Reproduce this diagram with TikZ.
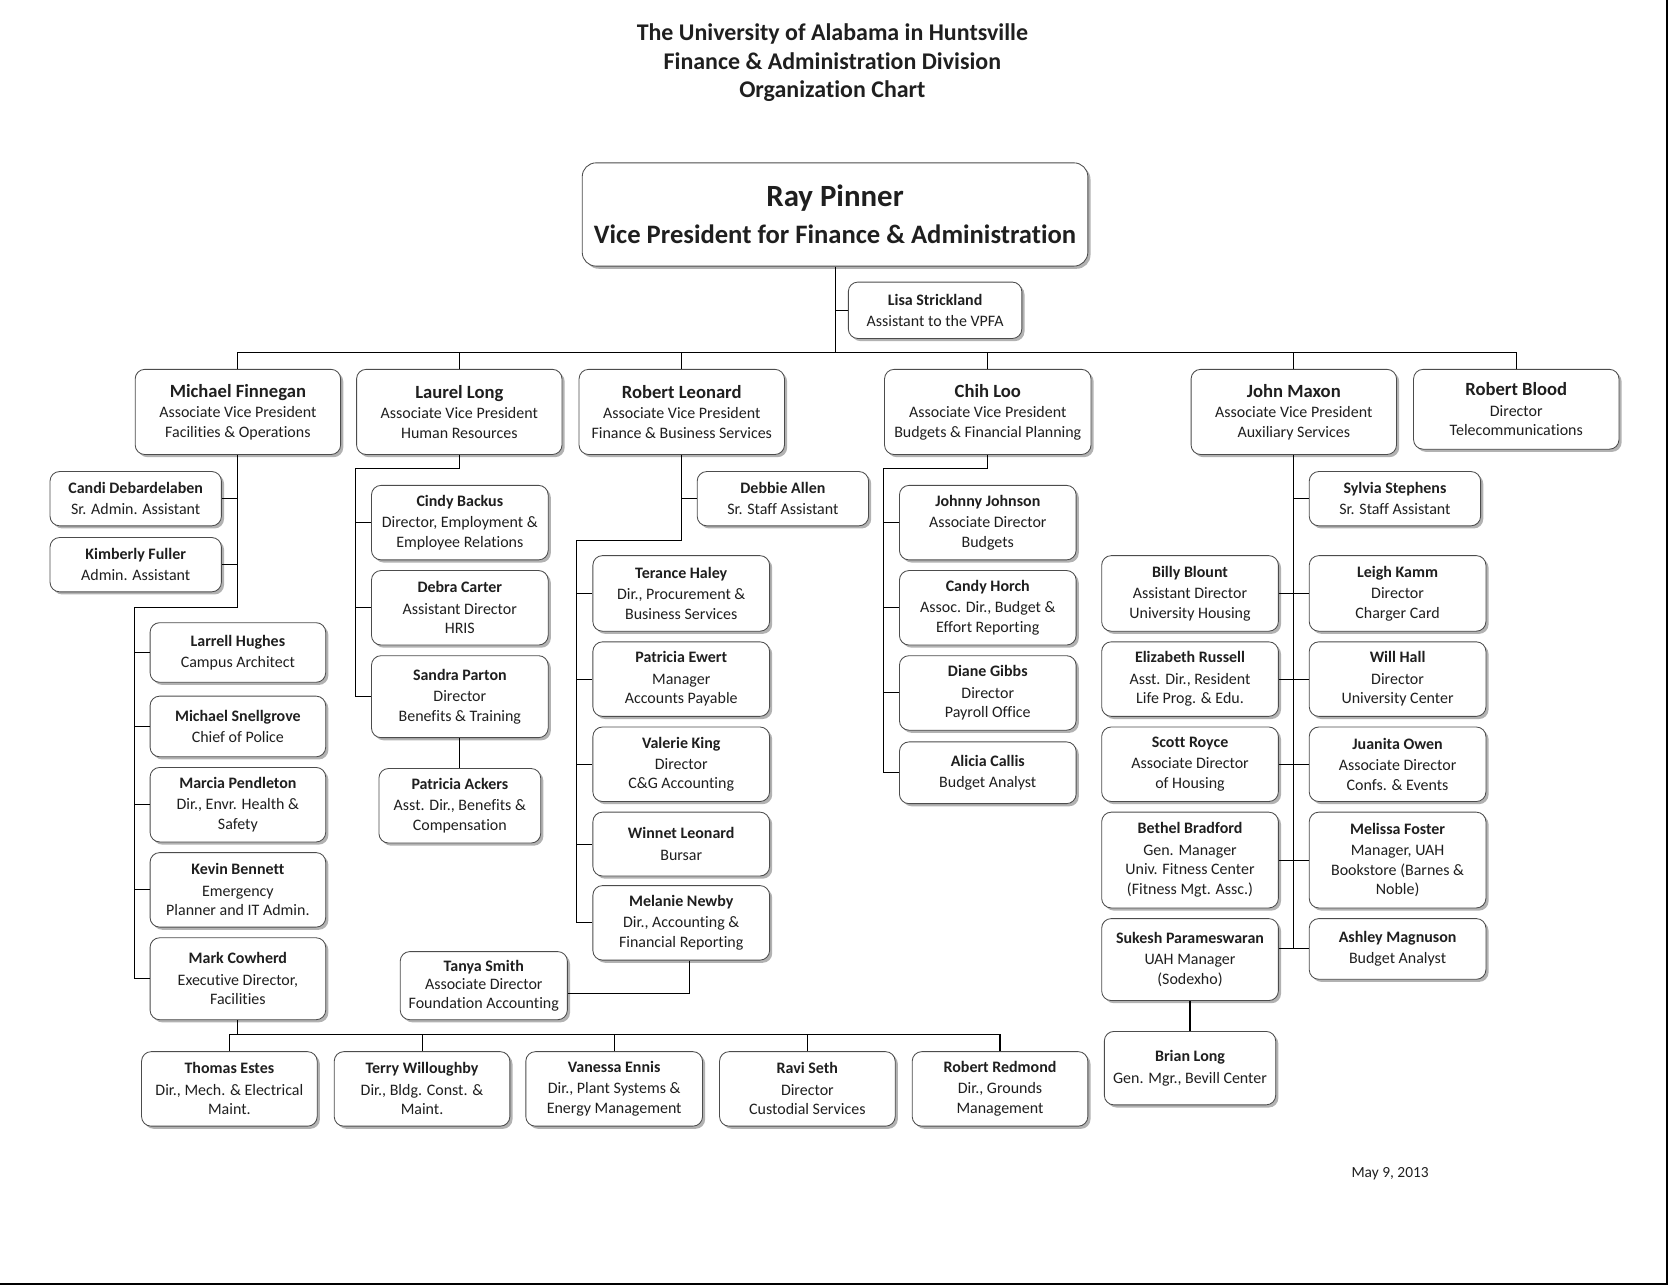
\documentclass[tikz,border=0pt]{standalone}
\usepackage{fontspec}
\setmainfont{Carlito}[Ligatures=NoCommon]
\usepackage{tikz}
\usetikzlibrary{positioning,shadows}

\newcommand{\who}[1]{\textbf{#1}\\[1.5pt]}
\newcommand{\avp}[1]{{\fontsize{17.5}{21}\selectfont\bfseries #1}\\[0.5pt]}

\begin{document}
\begin{tikzpicture}[x=1pt,y=-1pt,
  orgbox/.style={draw=black!70,line width=0.8pt,fill=white,rounded corners=9pt,align=center,inner sep=1pt,
    font=\fontsize{15}{18.5}\selectfont,text=black!88,
    drop shadow={shadow xshift=2.5pt,shadow yshift=-2.5pt,fill=black!30,opacity=1}},
  vpbox/.style={orgbox,minimum width=475pt,minimum height=97pt,rounded corners=13pt},
  avpbox/.style={orgbox,minimum width=193pt,minimum height=80pt},
  asstbox/.style={orgbox,minimum width=161pt,minimum height=51pt},
  unitbox/.style={orgbox,minimum width=166pt,minimum height=70pt},
  link/.style={line width=1pt,black}
]
\useasboundingbox (0,0) rectangle (1568,1208);

\node[font=\fontsize{22.5}{27}\selectfont\bfseries,align=center,text=black!88] (title) at (782,59)
  {The University of Alabama in Huntsville\\Finance \& Administration Division\\Organization Chart};

% top
\node[vpbox] (vp) at (784.5,201.5) {{\fontsize{29}{34}\selectfont\bfseries Ray Pinner}\\[12pt]
  {\fontsize{25}{29}\selectfont\bfseries Vice President for Finance \& Administration}};
\node[asstbox,minimum width=163pt,minimum height=53pt] (lisa) at (878.5,291.5) {\who{Lisa Strickland}Assistant to the VPFA};

% associate vice presidents
\node[avpbox] (finnegan) at (223.5,387) {\avp{Michael Finnegan}Associate Vice President\\Facilities \& Operations};
\node[avpbox] (long) at (431.5,387) {\avp{Laurel Long}Associate Vice President\\Human Resources};
\node[avpbox] (leonard) at (640.5,387) {\avp{Robert Leonard}Associate Vice President\\Finance \& Business Services};
\node[avpbox,minimum width=194pt] (loo) at (928,387) {\avp{Chih Loo}Associate Vice President\\Budgets \& Financial Planning};
\node[avpbox] (maxon) at (1215.5,387) {\avp{John Maxon}Associate Vice President\\Auxiliary Services};
\node[avpbox,minimum height=75pt] (blood) at (1424.5,384.5) {\avp{Robert Blood}Director\\Telecommunications};

% facilities
\node[asstbox] (candi) at (127.5,468.5) {\who{Candi Debardelaben}Sr. Admin. Assistant};
\node[asstbox] (kimberly) at (127.5,530.5) {\who{Kimberly Fuller}Admin. Assistant};
\node[unitbox,minimum width=165pt,minimum height=56pt] (larrell) at (223.5,613) {\who{Larrell Hughes}Campus Architect};
\node[unitbox,minimum width=165pt,minimum height=57pt] (snellgrove) at (223.5,682.5) {\who{Michael Snellgrove}Chief of Police};
\node[unitbox,minimum width=165pt] (pendleton) at (223.5,756) {\who{Marcia Pendleton}Dir., Envr. Health \&\\Safety};
\node[unitbox,minimum width=165pt] (bennett) at (223.5,836) {\who{Kevin Bennett}Emergency\\Planner and IT Admin.};
\node[unitbox,minimum width=165pt,minimum height=77pt] (cowherd) at (223.5,919.5) {\who{Mark Cowherd}Executive Director,\\Facilities};

\node[unitbox,minimum width=165pt] (estes) at (215.5,1023) {\who{Thomas Estes}Dir., Mech. \& Electrical\\Maint.};
\node[unitbox,minimum width=165pt] (willoughby) at (396.5,1023) {\who{Terry Willoughby}Dir., Bldg. Const. \&\\Maint.};
\node[unitbox] (ennis) at (577,1023) {\who{Vanessa Ennis}Dir., Plant Systems \&\\Energy Management};
\node[unitbox,minimum width=165pt] (seth) at (758.5,1023) {\who{Ravi Seth}Director\\Custodial Services};
\node[unitbox,minimum width=165pt] (redmond) at (939.5,1023) {\who{Robert Redmond}Dir., Grounds\\Management};

% human resources
\node[unitbox] (backus) at (432,491) {\who{Cindy Backus}Director, Employment \&\\Employee Relations};
\node[unitbox] (carter) at (432,571) {\who{Debra Carter}Assistant Director\\HRIS};
\node[unitbox,minimum height=77pt] (parton) at (432,654.5) {\who{Sandra Parton}Director\\Benefits \& Training};
\node[unitbox,minimum width=152pt] (ackers) at (432,757) {\who{Patricia Ackers}Asst. Dir., Benefits \&\\Compensation};

% finance and business services
\node[asstbox] (allen) at (735.5,468.5) {\who{Debbie Allen}Sr. Staff Assistant};
\node[unitbox,minimum height=71pt] (haley) at (640,557.5) {\who{Terance Haley}Dir., Procurement \&\\Business Services};
\node[unitbox] (ewert) at (640,638) {\who{Patricia Ewert}Manager\\Accounts Payable};
\node[unitbox] (king) at (640,718) {\who{Valerie King}Director\\C\&G Accounting};
\node[unitbox,minimum height=60pt] (winnet) at (640,793) {\who{Winnet Leonard}Bursar};
\node[unitbox] (newby) at (640,867) {\who{Melanie Newby}Dir., Accounting \&\\Financial Reporting};
\node[unitbox,minimum width=157pt,minimum height=64pt,font=\fontsize{15}{17.5}\selectfont] (tanya) at (454.5,926)
  {\textbf{Tanya Smith}\\Associate Director\\Foundation Accounting};

% budgets
\node[unitbox] (johnson) at (928,491) {\who{Johnny Johnson}Associate Director\\Budgets};
\node[unitbox] (horch) at (928,571) {\who{Candy Horch}Assoc. Dir., Budget \&\\Effort Reporting};
\node[unitbox] (gibbs) at (928,651) {\who{Diane Gibbs}Director\\Payroll Office};
\node[unitbox,minimum height=58pt] (callis) at (928,726) {\who{Alicia Callis}Budget Analyst};

% auxiliary services
\node[asstbox] (stephens) at (1310.5,468.5) {\who{Sylvia Stephens}Sr. Staff Assistant};
\node[unitbox,minimum height=71pt] (blount) at (1118,557.5) {\who{Billy Blount}Assistant Director\\University Housing};
\node[unitbox] (russell) at (1118,638) {\who{Elizabeth Russell}Asst. Dir., Resident\\Life Prog. \& Edu.};
\node[unitbox] (royce) at (1118,718) {\who{Scott Royce}Associate Director\\of Housing};
\node[unitbox,minimum height=90pt] (bradford) at (1118,808) {\who{Bethel Bradford}Gen. Manager\\Univ. Fitness Center\\(Fitness Mgt. Assc.)};
\node[unitbox,minimum height=77pt] (parames) at (1118,901.5) {\who{Sukesh Parameswaran}UAH Manager\\(Sodexho)};
\node[asstbox,minimum height=69pt] (brian) at (1118,1003.5) {\who{Brian Long}Gen. Mgr., Bevill Center};
\node[unitbox,minimum height=71pt] (kamm) at (1313,557.5) {\who{Leigh Kamm}Director\\Charger Card};
\node[unitbox] (hall) at (1313,638) {\who{Will Hall}Director\\University Center};
\node[unitbox] (owen) at (1313,718) {\who{Juanita Owen}Associate Director\\Confs. \& Events};
\node[unitbox,minimum height=90pt] (foster) at (1313,808) {\who{Melissa Foster}Manager, UAH\\Bookstore (Barnes \&\\Noble)};
\node[unitbox,minimum height=57pt] (magnuson) at (1313,891.5) {\who{Ashley Magnuson}Budget Analyst};

\node[font=\fontsize{14.5}{17}\selectfont,text=black!88] (date) at (1306,1103) {May 9, 2013};

% connectors
\coordinate (bus) at (784.5,331);
\draw[link] (vp.south) -- (bus);
\draw[link] (lisa.west) -- (lisa.west -| bus);
\foreach \n in {finnegan,long,leonard,loo,maxon,blood}
  \draw[link] (bus) -| (\n.north);

\coordinate (frail) at (126,571);
\draw[link] (finnegan.south) |- (frail) |- (cowherd.west);
\foreach \n in {candi,kimberly}
  \draw[link] (finnegan.south |- \n.east) -- (\n.east);
\foreach \n in {larrell,snellgrove,pendleton,bennett}
  \draw[link] (frail |- \n.west) -- (\n.west);
\coordinate (mbus) at (223.5,972);
\draw[link] (cowherd.south) -- (mbus);
\foreach \n in {estes,willoughby,ennis,seth,redmond}
  \draw[link] (mbus) -| (\n.north);

\coordinate (lrail) at (334,440);
\draw[link] (long.south) |- (lrail) |- (parton.west);
\foreach \n in {backus,carter}
  \draw[link] (lrail |- \n.west) -- (\n.west);
\draw[link] (parton) -- (ackers);

\coordinate (rrail) at (542,508);
\draw[link] (leonard.south) |- (rrail) |- (newby.west);
\draw[link] (leonard.south |- allen.west) -- (allen.west);
\foreach \n in {haley,ewert,king,winnet}
  \draw[link] (rrail |- \n.west) -- (\n.west);
\draw[link] ([xshift=8pt]newby.south) |- ([yshift=-7pt]tanya.east);

\coordinate (crail) at (830,440);
\draw[link] (loo.south) |- (crail) |- (callis.west);
\foreach \n in {johnson,horch,gibbs}
  \draw[link] (crail |- \n.west) -- (\n.west);

\draw[link] (maxon.south) -- (maxon.south |- magnuson.west);
\draw[link] (maxon.south |- stephens.west) -- (stephens.west);
\draw[link] (blount) -- (kamm);
\draw[link] (russell) -- (hall);
\draw[link] (royce) -- (owen);
\draw[link] (bradford) -- (foster);
\draw[link] (parames.east |- magnuson.west) -- (magnuson.west);
\draw[link] (parames) -- (brian);

% page edge
\draw[line width=2pt] (0,1206.5) -- (1566.5,1206.5) -- (1566.5,0);
\end{tikzpicture}
\end{document}
